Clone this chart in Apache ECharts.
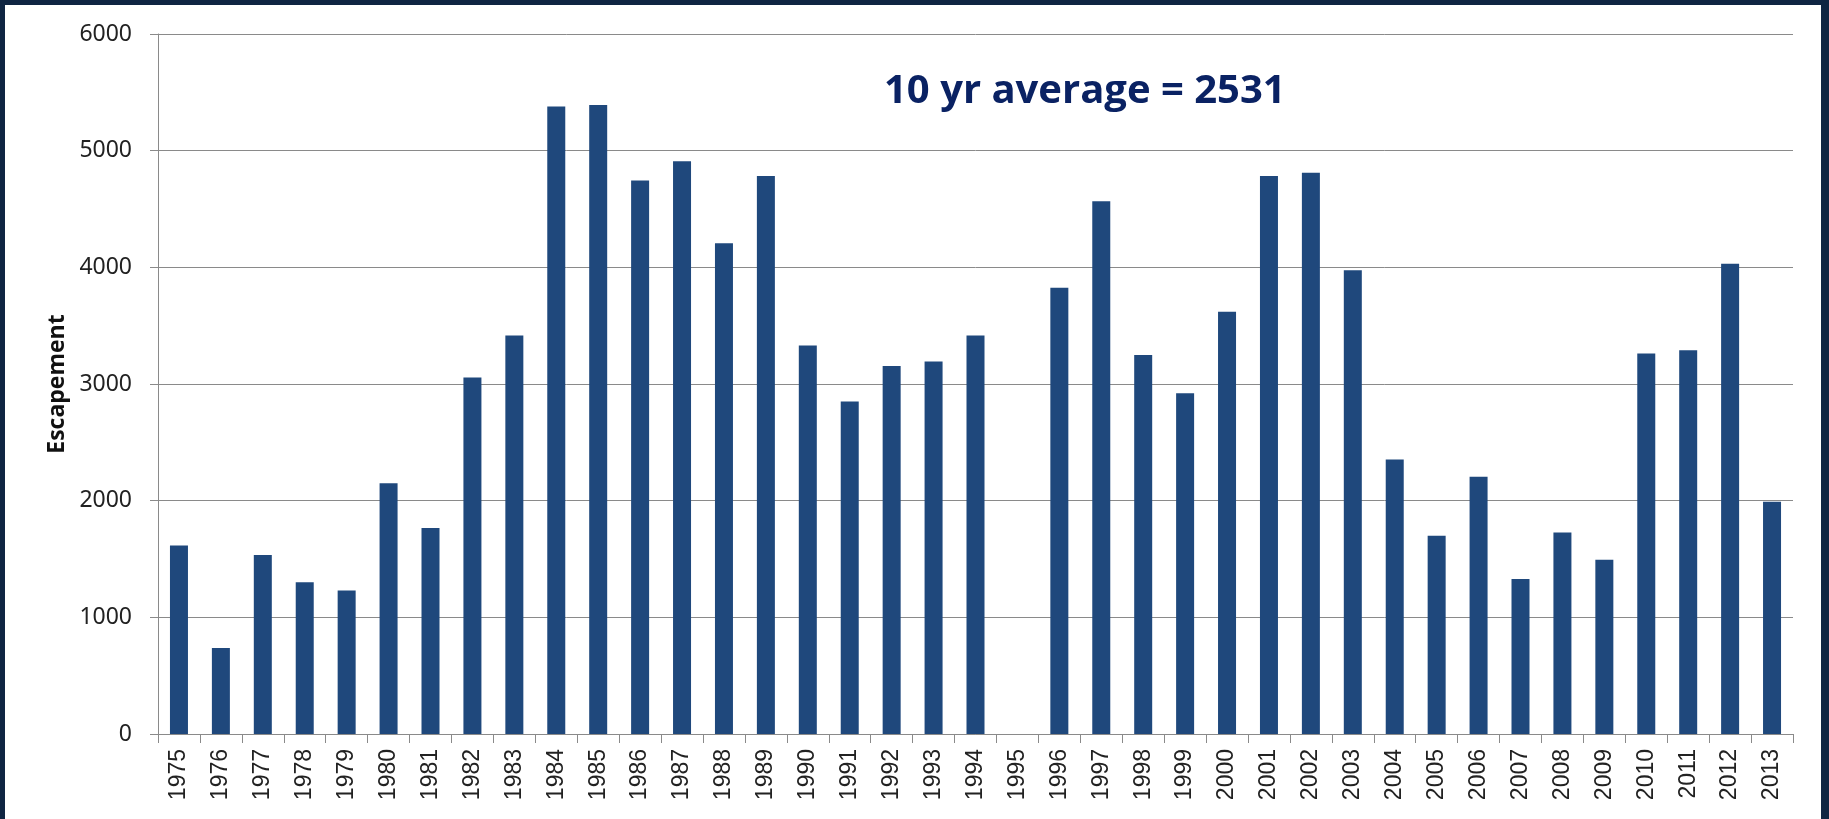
<!DOCTYPE html>
<html>
<head>
<meta charset="utf-8">
<title>Escapement</title>
<script src="https://cdn.jsdelivr.net/npm/echarts@6/dist/echarts.min.js"></script>
<style>
    html, body {
        margin: 0;
        padding: 0;
        background: #0f2542;
    }
    .box {
        position: absolute;
        left: 5px;
        top: 5px;
        width: 1816px;
        height: 814px;
        background: #fff;
    }
</style>
</head>
<body>
<div class="box"></div>
<script>
// years on the x axis
var years = ['1975', '1976', '1977', '1978', '1979', '1980', '1981', '1982', '1983', '1984',
    '1985', '1986', '1987', '1988', '1989', '1990', '1991', '1992', '1993', '1994',
    '1995', '1996', '1997', '1998', '1999', '2000', '2001', '2002', '2003', '2004',
    '2005', '2006', '2007', '2008', '2009', '2010', '2011', '2012', '2013']

// escapement per year (1995 has no count)
var escapement = [1615, 738, 1535, 1301, 1231, 2150, 1766, 3056, 3416, 5378,
    5392, 4745, 4909, 4206, 4783, 3329, 2850, 3154, 3192, 3416,
    null, 3825, 4566, 3248, 2920, 3619, 4783, 4811, 3976, 2353,
    1699, 2206, 1329, 1727, 1493, 3262, 3290, 4031, 1990]

var yTicks = [0, 1000, 2000, 3000, 4000, 5000, 6000]

var noteText = '10 yr average = 2531'

window.onload = function () {
    var chart = echarts.init(document.querySelector('.box'))
    var gray = '#8a8a8a'

    var option = {
        animation: false,
        grid: {
            left: 153,
            right: 28,
            top: 29,
            bottom: 85
        },
        graphic: [
            {
                type: 'text',
                left: 879,
                top: 67,
                style: {
                    text: noteText,
                    fill: '#0a2263',
                    font: 'bold 40px "Open Sans"'
                }
            }
        ],
        xAxis: {
            type: 'category',
            data: years,
            axisLine: { lineStyle: { color: gray, width: 1 } },
            axisTick: { show: true, length: 9, lineStyle: { color: gray } },
            axisLabel: {
                rotate: 90,
                interval: 0,
                margin: 15,
                color: '#222',
                fontSize: 23,
                fontFamily: 'Liberation Sans'
            }
        },
        yAxis: {
            type: 'value',
            min: yTicks[0],
            max: yTicks[yTicks.length - 1],
            interval: 1000,
            name: 'Escapement',
            nameLocation: 'middle',
            nameGap: 88,
            nameTextStyle: {
                color: '#111',
                fontSize: 23,
                fontWeight: 'bold',
                fontFamily: 'Open Sans'
            },
            axisLine: { show: true, lineStyle: { color: gray, width: 1 } },
            axisTick: { show: true, inside: false, length: 8, lineStyle: { color: gray } },
            splitLine: { lineStyle: { color: gray, width: 1 } },
            axisLabel: {
                margin: 26,
                color: '#222',
                fontSize: 23,
                fontFamily: 'Noto Sans',
                formatter: function (v) { return String(v) }
            }
        },
        series: [
            {
                name: 'Escapement',
                type: 'bar',
                data: escapement,
                barWidth: 18,
                itemStyle: { color: '#1f487c' }
            }
        ]
    }

    chart.setOption(option)
}
</script>
</body>
</html>
